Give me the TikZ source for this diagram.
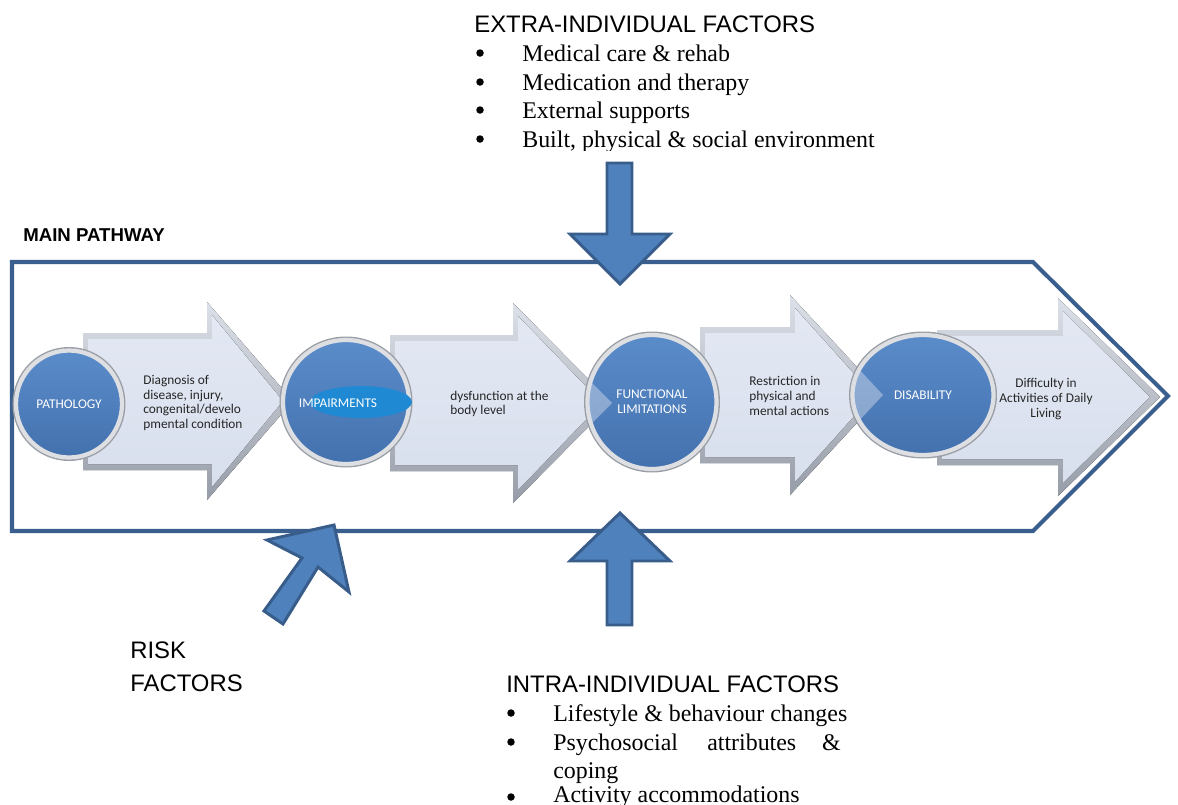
\documentclass[tikz,border=0pt]{standalone}
\usepackage{fontspec}
\setmainfont{Liberation Serif}
\newfontfamily\arialf{Liberation Sans}
\newfontfamily\calibf{Carlito}
\usetikzlibrary{shapes.geometric}
\definecolor{framec}{HTML}{3A5F8E}
\definecolor{bluef}{HTML}{4F81BD}
\definecolor{bluel}{HTML}{385D8A}
\definecolor{bevtop}{HTML}{DCE0E8}
\definecolor{bevbot}{HTML}{979DA8}
\definecolor{facetop}{HTML}{E3E8F3}
\definecolor{facebot}{HTML}{D8DFED}
\definecolor{balltop}{HTML}{5B8CCA}
\definecolor{ballbot}{HTML}{4371AE}
\definecolor{ringc}{HTML}{DDDFE3}
\definecolor{ringo}{HTML}{9A9EA5}
\definecolor{innerell}{HTML}{1F89D3}
\definecolor{txtc}{HTML}{262626}
\tikzset{
  x=0.02cm, y=-0.02cm,
  frameline/.style={draw=framec, line width=2.3pt, line join=miter},
  bigarrow/.style={fill=bluef, draw=bluel, line width=1.7pt, line join=miter},
  bevelout/.style={top color=bevtop, bottom color=bevbot},
  bevelin/.style={top color=facetop, bottom color=facebot},
  ghost/.style={fill=facebot, opacity=0.45},
  ball/.style={ellipse, inner sep=0pt, text=white,
    font=\calibf\fontsize{7.6}{8.4}\selectfont, align=center,
    top color=balltop, bottom color=ballbot, draw=ringc, line width=2.4pt,
    preaction={draw=ringo, line width=4pt}},
  arrowtext/.style={inner sep=0pt, text=txtc,
    font=\calibf\fontsize{7.6}{8.4}\selectfont},
  headtext/.style={inner sep=0pt, font=\arialf\fontsize{13.6}{16.2}\selectfont},
  itemtext/.style={inner sep=0pt, font=\fontsize{13.6}{16.2}\selectfont},
  bulletdot/.style={circle, fill=black, inner sep=0pt, minimum size=0.15cm},
}
% x0 xh xt ybt ybb yht yhb yc
\newcommand{\blockarrow}[8]{%
  \fill[bevelout] (#1,#4) -- (#2,#4) -- (#2,#6) -- (#3,#8) -- (#2,#7) -- (#2,#5) -- (#1,#5) -- cycle;
  \fill[bevelin] ({#1+5},{#4+6}) -- ({#2+5},{#4+6}) -- ({#2+5},{#6+13}) -- ({#3-10},#8) -- ({#2+5},{#7-13}) -- ({#2+5},{#5-6}) -- ({#1+5},{#5-6}) -- cycle;
}
\newcommand{\ghostarrow}[8]{%
  \fill[ghost] (#1,#4) -- (#2,#4) -- (#2,#6) -- (#3,#8) -- (#2,#7) -- (#2,#5) -- (#1,#5) -- cycle;
}
\begin{document}
\begin{tikzpicture}
\useasboundingbox (0,0) rectangle (1178,805);

% main frame
\draw[frameline] (12,262) -- (1033,262) -- (1168,396) -- (1033,531) -- (12,531) -- cycle;
\node[anchor=base west, inner sep=0pt, font=\arialf\bfseries\fontsize{10.6}{12}\selectfont] (mp) at (23,241) {MAIN PATHWAY};

% block arrows
\blockarrow{83}{207}{293}{333}{470}{302}{500}{401}
\blockarrow{390}{513}{612}{335}{471}{303}{503}{403}
\blockarrow{700}{790}{883}{327}{463}{295}{495}{395}
\blockarrow{937}{1058}{1160}{330}{465}{298}{496}{397}

% circles
\node[ball, minimum width=2.12cm, minimum height=2.14cm] (path) at (69,404) {PATHOLOGY};
\node[ball, minimum width=2.52cm, minimum height=2.48cm] (imp) at (346,402) {};
\node[ellipse, fill=innerell, inner sep=0pt, minimum width=2.04cm, minimum height=0.64cm] (impin) at (361,402) {};
\node[inner sep=0pt, text=white, font=\calibf\fontsize{7.6}{8.4}\selectfont] (implabel) at (338,403) {IMPAIRMENTS};
\node[ball, minimum width=2.58cm, minimum height=2.68cm] (func) at (652,402) {FUNCTIONAL\\LIMITATIONS};
\node[ball, minimum width=2.82cm, minimum height=2.40cm] (dis) at (923,395) {DISABILITY};

% faint arrow tips over circles
\begin{scope}
  \clip (652,402) ellipse [x radius=64, y radius=67];
  \ghostarrow{390}{513}{612}{335}{471}{303}{503}{403}
\end{scope}
\begin{scope}
  \clip (923,395) ellipse [x radius=70, y radius=60];
  \ghostarrow{700}{790}{883}{327}{463}{295}{495}{395}
\end{scope}

% arrow texts
\node[arrowtext, anchor=west, align=left] (t1) at (143,403) {Diagnosis of\\disease, injury,\\congenital/develo\\pmental condition};
\node[arrowtext, anchor=west, align=left] (t2) at (450,404) {dysfunction at the\\body level};
\node[arrowtext, anchor=west, align=left] (t3) at (749,396) {Restriction in\\physical and\\mental actions};
\node[arrowtext, align=center] (t4) at (1046,399) {Difficulty in\\Activities of Daily\\Living};

% blue influence arrows
\draw[bigarrow] (607,163) -- (632,163) -- (632,234) -- (670,234) -- (620,284) -- (570,234) -- (607,234) -- cycle;
\draw[bigarrow] (620,513) -- (670,561) -- (632,561) -- (632,625) -- (607,625) -- (607,561) -- (570,561) -- cycle;
\draw[bigarrow] (334,525) -- (349,592) -- (318,567) -- (283,624) -- (264,611) -- (302,558) -- (267,540) -- cycle;

% extra-individual factors
\node[headtext, anchor=base west] (extra) at (474,32) {EXTRA-INDIVIDUAL FACTORS};
\begin{scope}
  \clip (400,0) rectangle (950,150);
  \node[bulletdot] (eb1) at (480,53) {};
  \node[itemtext, anchor=base west] (e1) at (522,61) {Medical care \& rehab};
  \node[bulletdot] (eb2) at (480,82) {};
  \node[itemtext, anchor=base west] (e2) at (522,90) {Medication and therapy};
  \node[bulletdot] (eb3) at (480,110) {};
  \node[itemtext, anchor=base west] (e3) at (522,118) {External supports};
  \node[bulletdot] (eb4) at (480,139) {};
  \node[itemtext, anchor=base west] (e4) at (522,147) {Built, physical \& social environment};
\end{scope}

% risk factors
\node[headtext, anchor=base west] (risk1) at (130,658) {RISK};
\node[headtext, anchor=base west] (risk2) at (130,691) {FACTORS};

% intra-individual factors
\node[headtext, anchor=base west] (intra) at (506,692) {INTRA-INDIVIDUAL FACTORS};
\node[bulletdot] (ib1) at (511,713) {};
\node[itemtext, anchor=base west] (i1) at (553,721) {Lifestyle \& behaviour changes};
\node[bulletdot] (ib2) at (511,742) {};
\node[itemtext, anchor=base west] (i2a) at (553,750) {Psychosocial};
\node[itemtext, anchor=base west] (i2b) at (707,750) {attributes};
\node[itemtext, anchor=base east] (i2c) at (841,750) {\&};
\node[itemtext, anchor=base west] (i2d) at (553,778) {coping};
\node[bulletdot] (ib3) at (511,797) {};
\node[itemtext, anchor=base west] (i3) at (553,802) {Activity accommodations};
\end{tikzpicture}
\end{document}
